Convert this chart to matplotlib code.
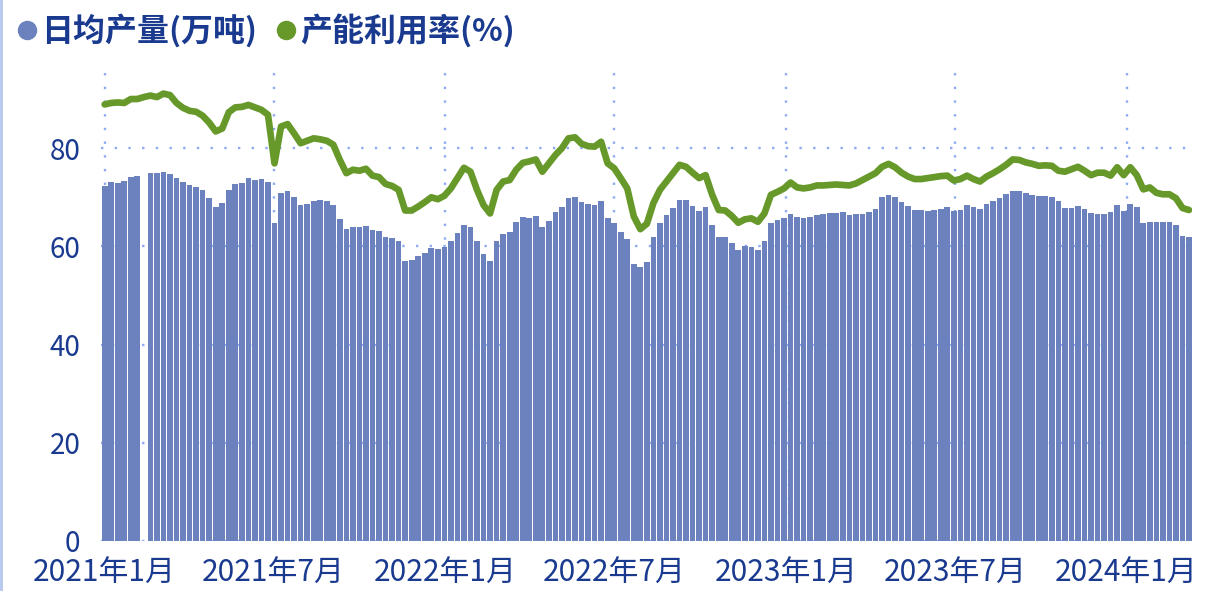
import numpy as np
import pandas as pd
import matplotlib
matplotlib.use("Agg")
import matplotlib.pyplot as plt
from matplotlib.lines import Line2D

plt.rcParams['font.family'] = ['Noto Sans CJK SC', 'DejaVu Sans']

#weekly data, first week 2021-01-01
start_date = "2021-01-01"
n_weeks = 167

#daily output (10k tonnes), week 7 missing (spring festival)
output = [72.3, 73.1, 72.9, 73.3, 74.1, 74.3, np.nan, 74.9, 74.9, 75.2,
          74.7, 73.9, 73.1, 72.5, 72.1, 71.5, 69.9, 68.0, 68.8, 71.5,
          72.7, 72.9, 73.9, 73.5, 73.7, 73.1, 64.8, 70.9, 71.3, 70.1,
          68.4, 68.6, 69.2, 69.4, 69.2, 68.4, 65.6, 63.5, 64.0, 64.0,
          64.2, 63.3, 63.1, 61.9, 61.7, 61.1, 57.0, 57.2, 58.0, 58.7,
          59.7, 59.5, 59.9, 61.1, 62.7, 64.4, 64.0, 61.1, 58.5, 57.0,
          61.1, 62.5, 62.9, 65.0, 66.0, 65.8, 66.2, 64.0, 65.2, 67.0,
          68.0, 69.9, 70.1, 69.0, 68.6, 68.4, 69.2, 65.8, 64.8, 62.9,
          61.5, 56.4, 55.8, 56.8, 61.9, 64.8, 66.4, 67.8, 69.4, 69.4,
          68.2, 67.2, 68.0, 64.4, 61.9, 61.9, 60.7, 59.3, 60.1, 59.9,
          59.3, 61.1, 64.8, 65.4, 65.8, 66.6, 66.0, 65.8, 66.0, 66.4,
          66.6, 66.8, 66.8, 67.0, 66.4, 66.6, 66.6, 67.0, 67.6, 70.1,
          70.5, 70.1, 69.0, 68.2, 67.4, 67.4, 67.2, 67.4, 67.6, 68.0,
          67.2, 67.4, 68.4, 68.0, 67.6, 68.6, 69.2, 69.9, 70.7, 71.3,
          71.3, 70.9, 70.5, 70.3, 70.3, 70.1, 69.2, 67.8, 67.8, 68.2,
          67.6, 66.8, 66.6, 66.6, 67.0, 68.4, 67.2, 68.6, 68.0, 64.8,
          65.0, 65.0, 65.0, 65.0, 64.4, 62.1, 61.9]

#capacity utilisation (%)
utilisation = [88.9, 89.2, 89.3, 89.2, 90.0, 90.0, 90.4, 90.7, 90.4, 91.1,
               90.8, 89.2, 88.2, 87.6, 87.4, 86.6, 85.2, 83.4, 84.0, 87.3,
               88.3, 88.4, 88.8, 88.3, 87.8, 86.8, 76.9, 84.4, 84.9, 83.0,
               81.0, 81.5, 82.0, 81.8, 81.5, 80.7, 77.6, 74.9, 75.6, 75.4,
               75.8, 74.4, 74.1, 72.7, 72.3, 71.5, 67.3, 67.3, 68.1, 69.0,
               70.0, 69.6, 70.3, 71.8, 73.9, 76.0, 75.2, 71.5, 68.4, 66.7,
               71.5, 73.2, 73.5, 75.6, 77.0, 77.3, 77.7, 75.2, 76.9, 78.6,
               80.0, 82.0, 82.2, 80.9, 80.4, 80.3, 81.3, 76.9, 75.9, 73.9,
               71.8, 66.1, 63.5, 64.6, 68.8, 71.5, 73.2, 74.9, 76.6, 76.2,
               75.0, 73.9, 74.5, 70.5, 67.4, 67.3, 66.2, 64.8, 65.5, 65.7,
               65.0, 66.7, 70.5, 71.1, 71.8, 73.0, 72.0, 71.8, 72.0, 72.4,
               72.4, 72.5, 72.6, 72.5, 72.4, 72.8, 73.5, 74.2, 74.9, 76.2,
               76.8, 76.1, 75.0, 74.2, 73.7, 73.7, 73.9, 74.1, 74.3, 74.4,
               73.4, 73.7, 74.4, 73.7, 73.2, 74.2, 74.9, 75.7, 76.6, 77.7,
               77.6, 77.1, 76.8, 76.4, 76.5, 76.4, 75.4, 75.2, 75.7, 76.2,
               75.4, 74.5, 75.0, 75.0, 74.4, 76.1, 74.5, 76.1, 74.5, 71.6,
               72.0, 70.9, 70.6, 70.6, 69.8, 67.8, 67.4]

tick_dates = ["2021-01-01", "2021-07-01", "2022-01-01", "2022-07-01",
              "2023-01-01", "2023-07-01", "2024-01-01"]
tick_labels = ["2021年1月", "2021年7月", "2022年1月", "2022年7月",
               "2023年1月", "2023年7月", "2024年1月"]
y_ticks = [0, 20, 40, 60, 80]

legend_labels = ["日均产量(万吨)", "产能利用率(%)"]

bar_color = "#6b82be"
line_color = "#66982a"
text_color = "#1a3a8f"
grid_color = "#8eaaf4"

dates = pd.date_range(start_date, periods=n_weeks, freq="7D")

fig = plt.figure(figsize=(12.22, 5.91), dpi=100)
ax = fig.add_axes([101.4/1222, 50/591, (1192.3-101.4)/1222, 468/591])

ax.bar(dates, output, width=6.1, color=bar_color, zorder=2)
ax.plot(dates, utilisation, color=line_color, lw=4.8, zorder=3,
        solid_capstyle="round", solid_joinstyle="round")

ax.set_xlim(dates[0] - pd.Timedelta(days=3.5), dates[-1] + pd.Timedelta(days=3.5))
ax.set_ylim(0, 95.3)

ax.set_xticks(pd.to_datetime(tick_dates))
ax.set_xticklabels(tick_labels)
ax.set_yticks(y_ticks)
ax.tick_params(axis="x", length=0, pad=12, labelsize=21.5, labelcolor=text_color)
ax.tick_params(axis="y", length=0, pad=15, labelsize=20, labelcolor=text_color)

ax.grid(True, color=grid_color, lw=1.7, linestyle=(0, (1, 4.8)), zorder=0)
ax.set_axisbelow(True)
for s in ax.spines.values():
    s.set_visible(False)

#legend at the top
handles = [Line2D([], [], marker="o", ls="", color=bar_color, markersize=13),
           Line2D([], [], marker="o", ls="", color=line_color, markersize=13)]
leg = fig.legend(handles, legend_labels, loc="upper left", bbox_to_anchor=(-0.012, 1.025),
                 ncol=2, frameon=False, handletextpad=0.05, columnspacing=0.5,
                 handlelength=0.8, prop={"size": 23, "weight": "bold"})
for t in leg.get_texts():
    t.set_color(text_color)

#thin border at the left edge
fig.add_artist(Line2D([0.001, 0.001], [0, 1], color="#b4c6f0", lw=2))

plt.savefig("out.png", dpi=100)
